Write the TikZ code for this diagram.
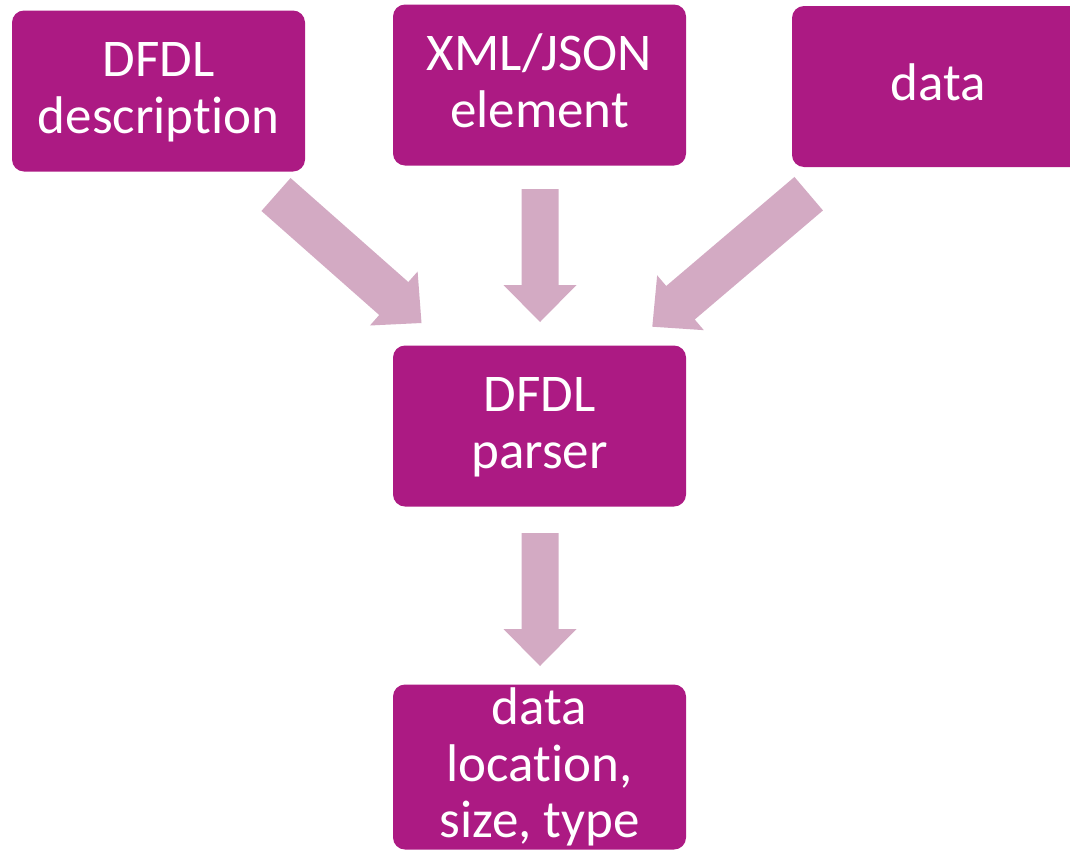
\documentclass[tikz,border=0pt]{standalone}
\usepackage{fontspec}
\setmainfont{Carlito}[Ligatures=NoCommon]
\usetikzlibrary{calc}
\definecolor{boxfill}{HTML}{AC1A83}
\definecolor{arrowfill}{HTML}{D3AAC3}
% line strut: 40pt above, 12pt below the baseline
\newcommand\lstrut{\rule[-12pt]{0pt}{52pt}}
% block arrow from tail #1 to tip #2; #3 half shaft, #4 half head, #5 head length
\newcommand\blockarrow[5]{%
  \coordinate (#1-#2) at ($(#2)!#5!(#1)$);
  \fill[arrowfill] ($(#1)!#3!90:(#2)$) -- ($(#1-#2)!#3!90:(#2)$)
    -- ($(#1-#2)!#4!90:(#2)$) -- (#2) -- ($(#1-#2)!#4!-90:(#2)$)
    -- ($(#1-#2)!#3!-90:(#2)$) -- ($(#1)!#3!-90:(#2)$) -- cycle;}
\begin{document}
\begin{tikzpicture}[x=1pt,y=1pt,
  box/.style={rectangle, rounded corners=12pt, fill=boxfill, text=white,
    minimum width=293pt, minimum height=161pt, inner sep=0pt, align=center,
    font=\fontsize{53}{56.5}\selectfont}]
\useasboundingbox (0,0) rectangle (1070,-849);
\clip (0,0) rectangle (1070,-849);

% boxes
\node[box] (desc)   at (158.5,-91)  {\lstrut DFDL\\\lstrut description};
\node[box] (xml)    at (539.5,-85)  {\lstrut XML/JSON\\\lstrut element};
\node[box] (data)   at (938.5,-86.5) {\lstrut data};
\node[box] (parser) at (539.5,-426) {\lstrut DFDL\\\lstrut parser};
\node[box] (out)    at (539.5,-767) {\lstrut data\\\lstrut location,\\\lstrut size, type};

% arrow ends
\coordinate (lt) at (276,-194.5);   \coordinate (lh) at (421.5,-323);
\coordinate (mt) at (540,-189);     \coordinate (mh) at (540,-322);
\coordinate (rt) at (808.7,-193.7); \coordinate (rh) at (652.3,-326.7);
\coordinate (bt) at (540,-533);     \coordinate (bh) at (540,-666);

% block arrows
\blockarrow{lt}{lh}{22pt}{36pt}{37pt}
\blockarrow{mt}{mh}{18.5pt}{36.5pt}{37pt}
\blockarrow{rt}{rh}{22pt}{36pt}{37pt}
\blockarrow{bt}{bh}{18.5pt}{36.5pt}{37pt}
\end{tikzpicture}
\end{document}
